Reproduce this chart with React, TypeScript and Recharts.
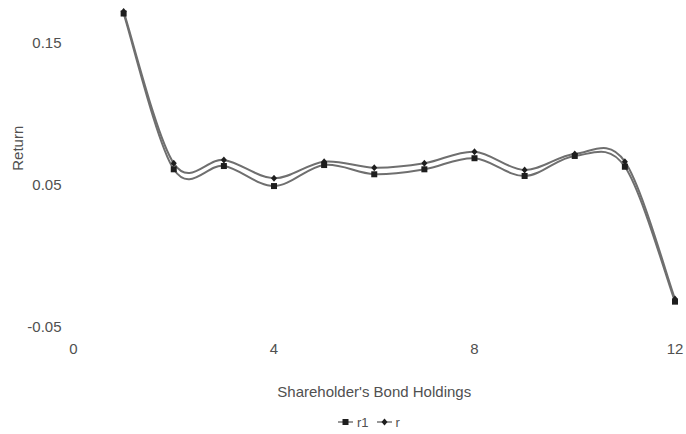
import React from 'react';
import { LineChart, Line, XAxis, YAxis, Label, Legend } from 'recharts';

const holdings = [1, 2, 3, 4, 5, 6, 7, 8, 9, 10, 11, 12];
const r1Values = [0.1704, 0.0607, 0.063, 0.0489, 0.0637, 0.0572, 0.0607, 0.0685, 0.056, 0.0701, 0.0625, -0.0325];
const rValues = [0.1718, 0.0649, 0.0673, 0.0544, 0.0661, 0.0618, 0.0649, 0.0731, 0.0602, 0.0715, 0.0661, -0.0306];
const xTicks = [0, 4, 8, 12];
const yTicks = [-0.05, 0.05, 0.15];
const seriesNames = ['r1', 'r'];

const data = holdings.map((x, i) => ({ x, r1: r1Values[i], r: rValues[i] }));

const font = '"Liberation Sans", Arial, sans-serif';
const textColor = '#505050';

// Excel-like smoothed line (Catmull-Rom through the points)
const smoothCurve = (context: any) => {
  let pts: number[][] = [];
  return {
    areaStart() {},
    areaEnd() {},
    lineStart() {
      pts = [];
    },
    point(x: number, y: number) {
      pts.push([+x, +y]);
    },
    lineEnd() {
      const n = pts.length;
      if (!n) return;
      context.moveTo(pts[0][0], pts[0][1]);
      if (n === 1) return;
      const t = 1 / 6;
      for (let i = 0; i < n - 1; i++) {
        const p0 = pts[i - 1] || pts[i];
        const p1 = pts[i];
        const p2 = pts[i + 1];
        const p3 = pts[i + 2] || p2;
        context.bezierCurveTo(
          p1[0] + (p2[0] - p0[0]) * t,
          p1[1] + (p2[1] - p0[1]) * t,
          p2[0] - (p3[0] - p1[0]) * t,
          p2[1] - (p3[1] - p1[1]) * t,
          p2[0],
          p2[1]
        );
      }
    },
  };
};

const SquareDot = (props: any) => {
  const { cx, cy } = props;
  if (cx == null || cy == null) return null;
  return <rect x={cx - 3} y={cy - 3} width={6} height={6} fill="#1e1e1e" />;
};

const DiamondDot = (props: any) => {
  const { cx, cy } = props;
  if (cx == null || cy == null) return null;
  return (
    <path
      d={`M${cx},${cy - 3.5} L${cx + 3},${cy} L${cx},${cy + 3.5} L${cx - 3},${cy} Z`}
      fill="#1e1e1e"
    />
  );
};

const LegendContent = () => {
  const item = (name: string, square: boolean) => (
    <span key={name} style={{ display: 'inline-flex', alignItems: 'center', marginRight: 8 }}>
      <svg width={15} height={10} style={{ marginRight: 4 }}>
        <line x1={0} y1={5} x2={15} y2={5} stroke="#555" strokeWidth={1.2} />
        {square ? (
          <rect x={4.5} y={2} width={6} height={6} fill="#1e1e1e" />
        ) : (
          <path d="M7.5,1.5 L10.5,5 L7.5,8.5 L4.5,5 Z" fill="#1e1e1e" />
        )}
      </svg>
      <span>{name}</span>
    </span>
  );
  return (
    <div
      style={{
        height: 20,
        display: 'flex',
        justifyContent: 'flex-start',
        alignItems: 'center',
        fontFamily: font,
        fontSize: 13,
        color: textColor,
        paddingLeft: 324.5,
      }}
    >
      {item(seriesNames[0], true)}
      {item(seriesNames[1], false)}
    </div>
  );
};

const YLabel = (props: any) => {
  const { viewBox, value } = props;
  if (!viewBox) return null;
  const x = viewBox.x + 3.5;
  const y = viewBox.y + viewBox.height / 2 - 18.5;
  return (
    <text
      x={x}
      y={y}
      transform={`rotate(-90, ${x}, ${y})`}
      textAnchor="middle"
      dominantBaseline="central"
      fill={textColor}
      fontSize={15}
      fontFamily={font}
    >
      {value}
    </text>
  );
};

export default function App() {
  return (
    <div style={{ position: 'absolute', left: 0, top: 0, width: 686, height: 434, background: '#fff' }}>
      <LineChart
        width={686}
        height={434}
        data={data}
        margin={{ top: 7, right: 11, left: 13.5, bottom: 2 }}
        style={{ fontFamily: font }}
      >
        <XAxis
          dataKey="x"
          type="number"
          domain={[0, 12]}
          ticks={xTicks}
          axisLine={false}
          tickLine={false}
          tickMargin={10.5}
          height={85.5}
          tick={{ fill: textColor, fontSize: 15, fontFamily: font }}
        >
          <Label
            value="Shareholder's Bond Holdings"
            position="insideBottom"
            offset={15}
            style={{ fill: textColor, fontSize: 15, fontFamily: font }}
          />
        </XAxis>
        <YAxis
          type="number"
          domain={[-0.05, 0.175]}
          ticks={yTicks}
          allowDataOverflow
          axisLine={false}
          tickLine={false}
          tickMargin={6}
          width={60}
          tick={{ fill: textColor, fontSize: 15, fontFamily: font }}
        >
          <Label value="Return" content={<YLabel />} />
        </YAxis>
        <Legend verticalAlign="bottom" align="center" content={<LegendContent />} />
        <Line
          dataKey="r1"
          name={seriesNames[0]}
          type={smoothCurve as any}
          stroke="#6f6f6f"
          strokeWidth={2}
          dot={<SquareDot />}
          activeDot={false}
          isAnimationActive={false}
        />
        <Line
          dataKey="r"
          name={seriesNames[1]}
          type={smoothCurve as any}
          stroke="#6f6f6f"
          strokeWidth={2}
          dot={<DiamondDot />}
          activeDot={false}
          isAnimationActive={false}
        />
      </LineChart>
    </div>
  );
}
